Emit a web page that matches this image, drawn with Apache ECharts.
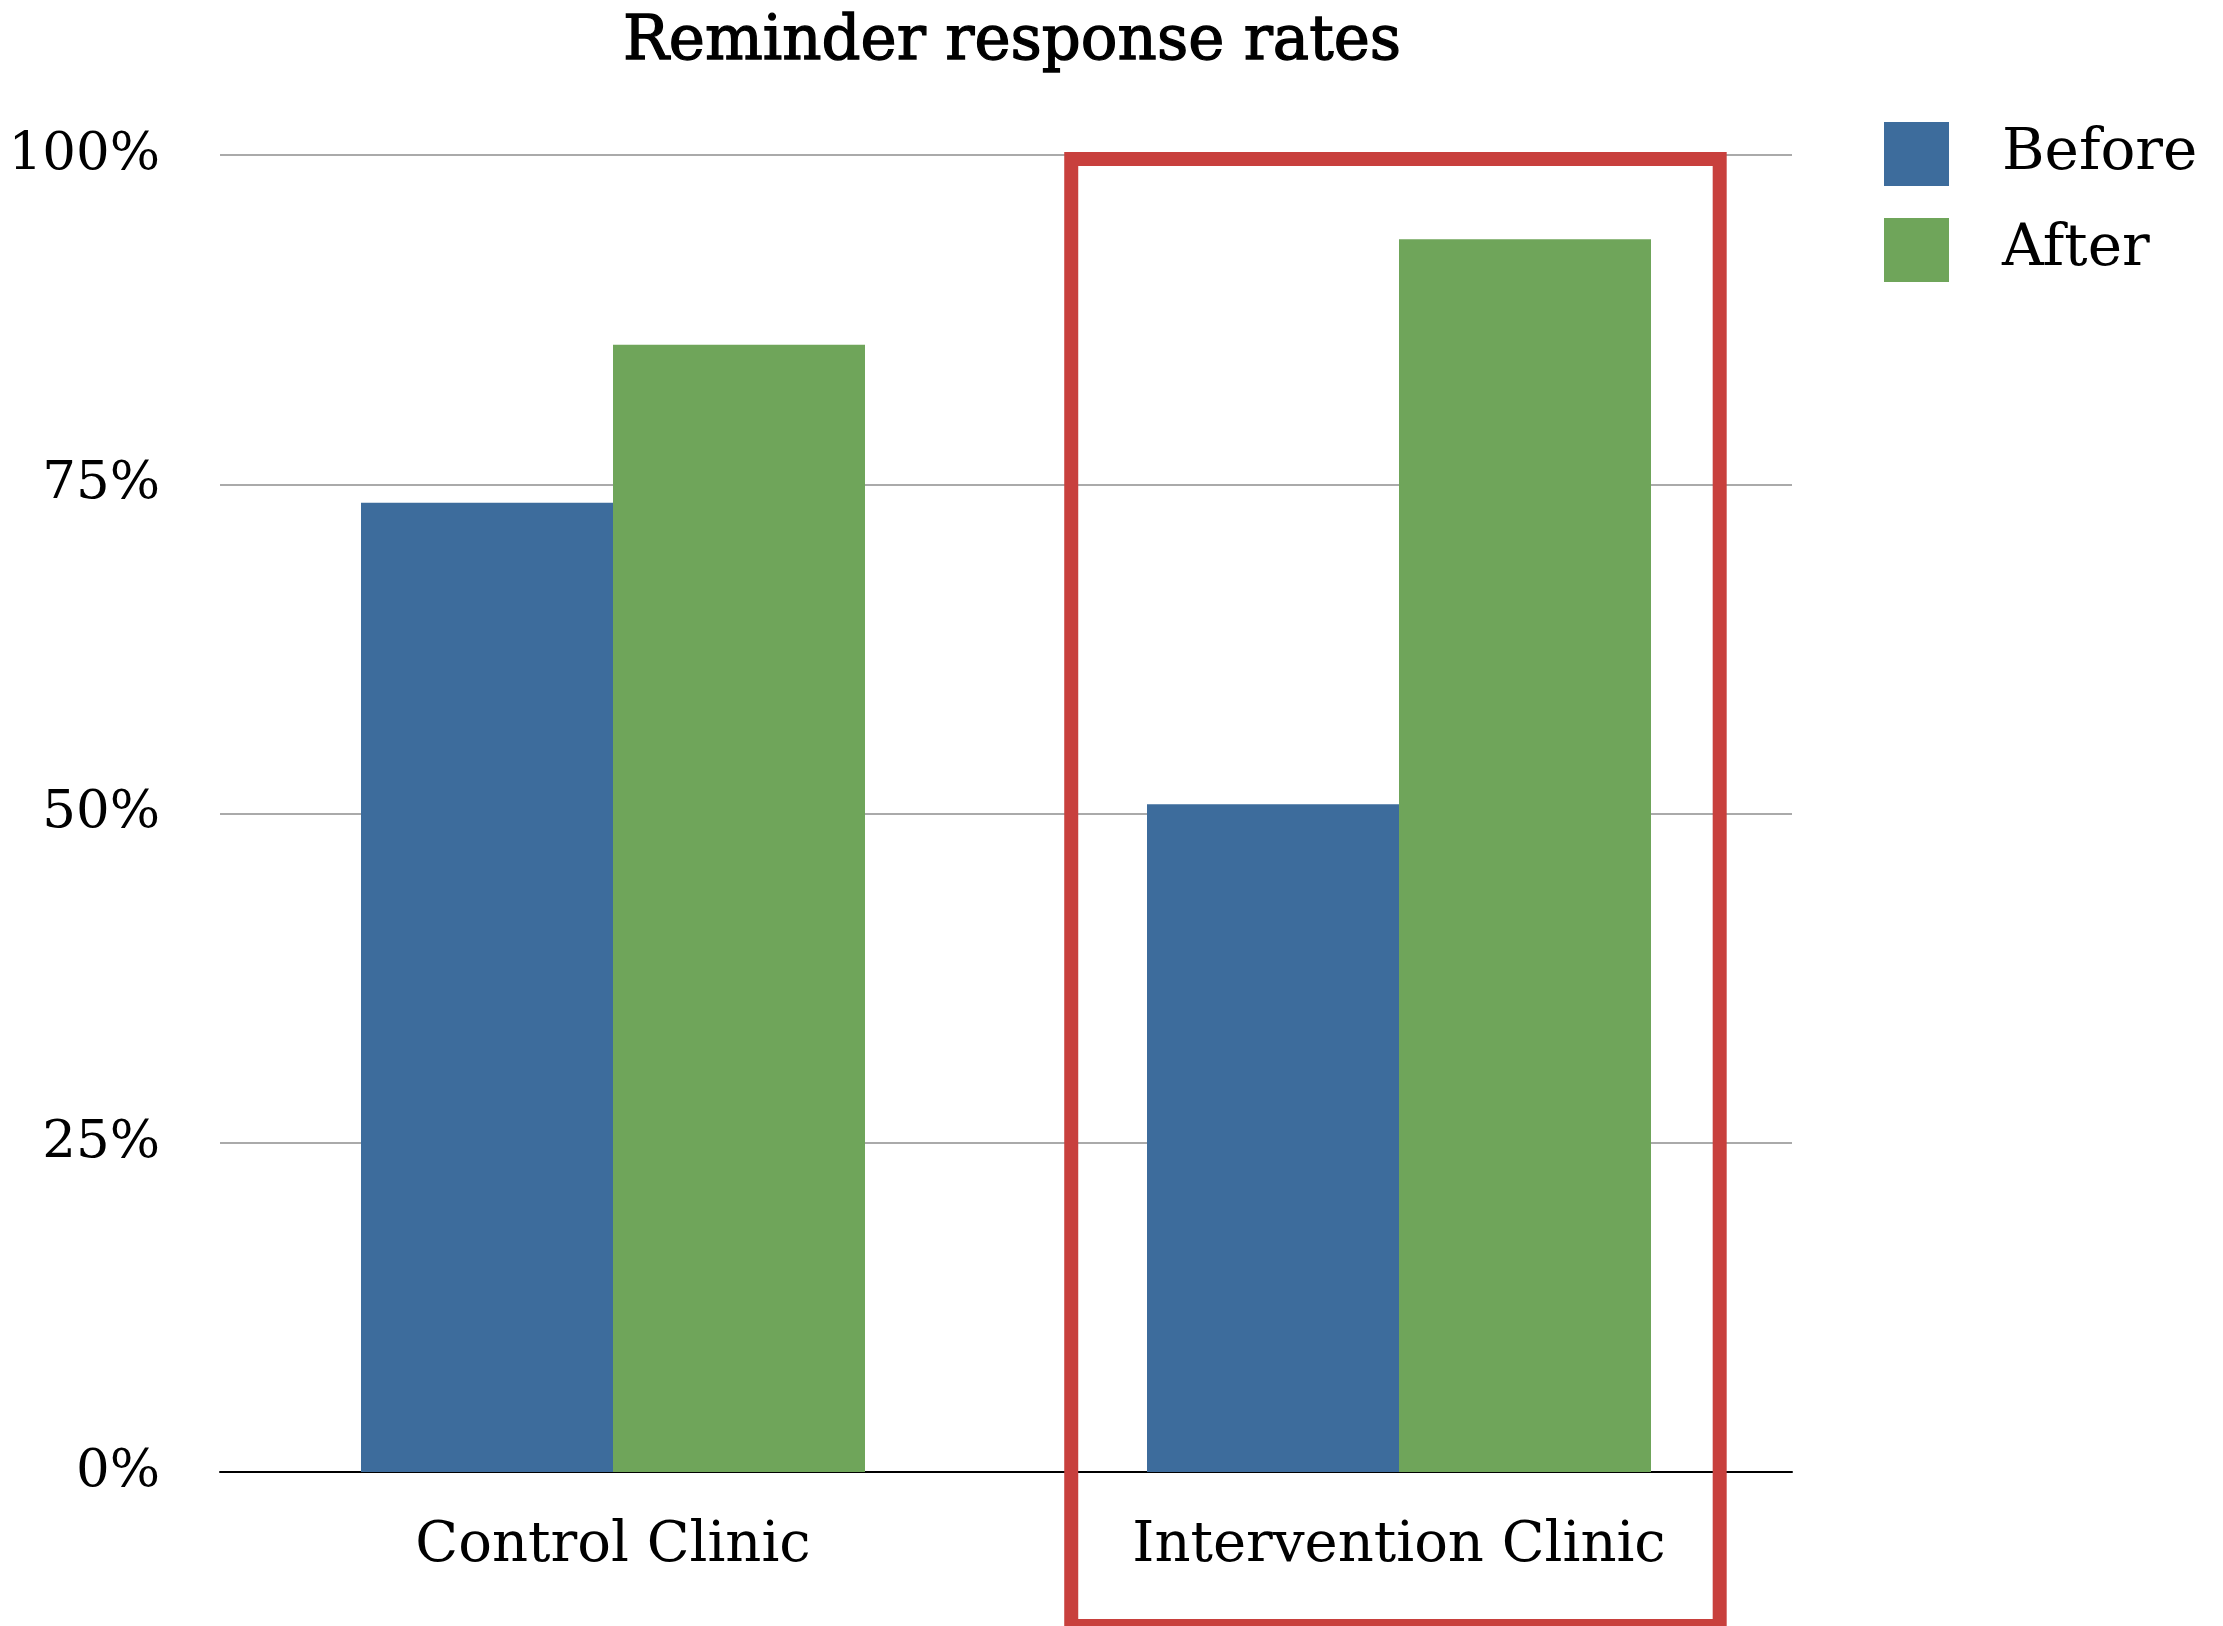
<!DOCTYPE html>
<html>
<head>
<meta charset="utf-8">
<style>
html,body{margin:0;padding:0;background:#fff;}
#c{width:2223px;height:1626px;}
</style>
<script src="https://cdn.jsdelivr.net/npm/echarts@6/dist/echarts.min.js"></script>
</head>
<body>
<div id="c"></div>
<script>
var categories = ['Control Clinic', 'Intervention Clinic'];
var beforeValues = [73.6, 50.7];
var afterValues = [85.6, 93.6];
var yTicks = [0, 25, 50, 75, 100];
var highlightCategory = 'Intervention Clinic';

var FONT = 'DejaVu Serif';
var chart = echarts.init(document.getElementById('c'), null, {renderer: 'canvas'});
var option = {
  animation: false,
  backgroundColor: '#ffffff',
  title: {
    text: 'Reminder response rates',
    left: 1007, top: 8, textAlign: 'center',
    textStyle: {fontFamily: FONT, fontSize: 61, fontWeight: 'normal', color: '#000',
                textBorderColor: '#000', textBorderWidth: 1.3}
  },
  legend: {
    orient: 'vertical',
    left: 1879, top: 117,
    itemWidth: 65, itemHeight: 64, itemGap: 32,
    icon: 'rect',
    textStyle: {fontFamily: FONT, fontSize: 58, color: '#000', padding: [0, 0, 0, 48]},
    data: ['Before', 'After']
  },
  grid: {left: 220, right: 431, top: 155, bottom: 154, containLabel: false},
  xAxis: {
    type: 'category',
    data: categories,
    axisLine: {show: true, lineStyle: {color: '#000', width: 2}},
    axisTick: {show: false},
    axisLabel: {fontFamily: FONT, fontSize: 56, color: '#000', margin: 46}
  },
  yAxis: {
    type: 'value',
    min: 0, max: 100, interval: 25,
    axisLine: {show: false},
    axisTick: {show: false},
    splitLine: {lineStyle: {color: '#aaaaaa', width: 2}},
    axisLabel: {
      fontFamily: FONT, fontSize: 53, color: '#000', margin: 60,
      formatter: function (v) { return yTicks.indexOf(v) >= 0 ? v + '%' : ''; }
    }
  },
  series: [
    {name: 'Before', type: 'bar', data: beforeValues, barWidth: 252, barGap: '0%',
     itemStyle: {color: '#3d6c9c'}},
    {name: 'After', type: 'bar', data: afterValues, barWidth: 252, barGap: '0%',
     itemStyle: {color: '#6fa55a'}}
  ]
};
chart.setOption(option);

// highlight box around the intervention category
var cIdx = categories.indexOf(highlightCategory);
var cx = chart.convertToPixel({xAxisIndex: 0}, cIdx);
var c0 = chart.convertToPixel({xAxisIndex: 0}, 0);
var c1 = chart.convertToPixel({xAxisIndex: 0}, 1);
var band = Math.abs(c1 - c0);
var yTop = chart.convertToPixel({yAxisIndex: 0}, 100);
var H = chart.getHeight();
var x1 = cx - 0.417 * band;
var x2 = cx + 0.408 * band;
var y1 = yTop + 4;
chart.setOption({
  graphic: [{
    type: 'rect', z: 100,
    shape: {x: x1, y: y1, width: x2 - x1, height: H - y1},
    style: {fill: 'none', stroke: '#c8403d', lineWidth: 14}
  }]
});
</script>
</body>
</html>
